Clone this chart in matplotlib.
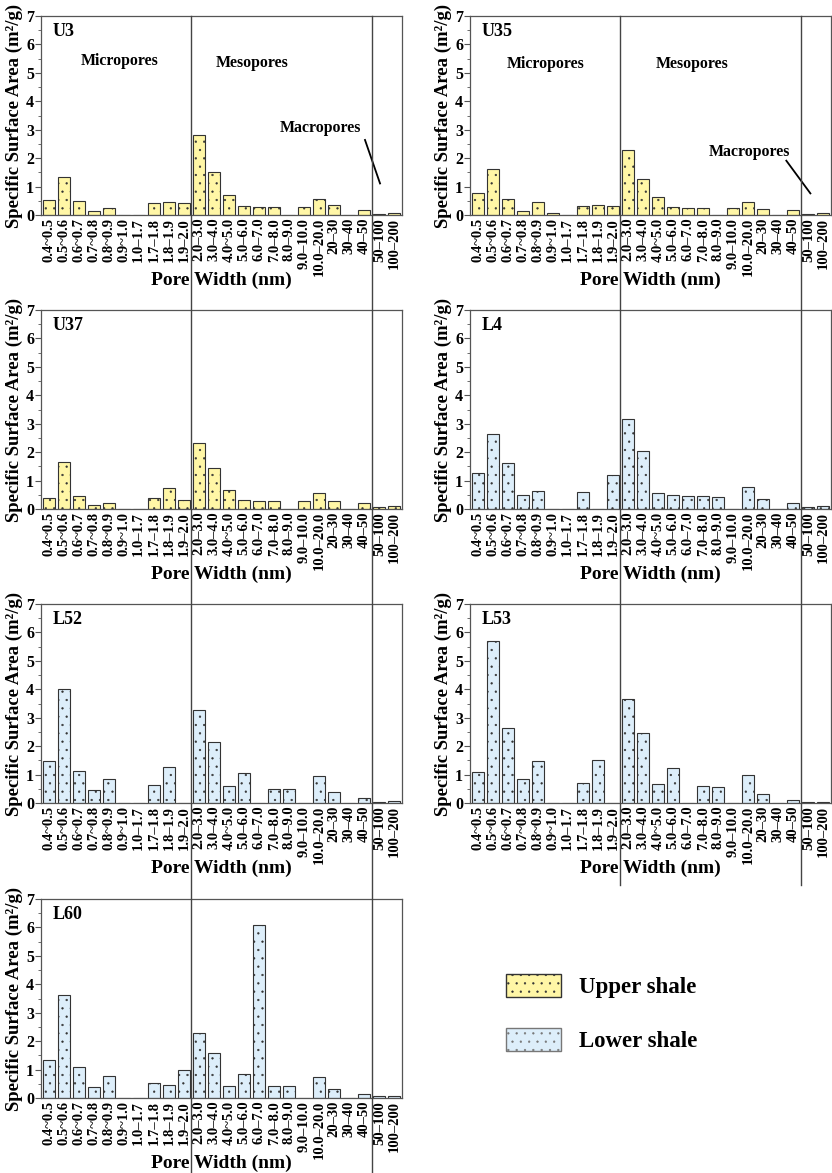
import numpy as np
import matplotlib.pyplot as plt
from matplotlib import transforms
from matplotlib.lines import Line2D
from matplotlib.patches import Patch
from matplotlib.ticker import MultipleLocator

plt.rcParams['font.family'] = ['Liberation Serif', 'DejaVu Serif']
plt.rcParams['font.weight'] = 'bold'
plt.rcParams['hatch.linewidth'] = 0.4

# pore width classes (nm)
pore_classes = ['0.4~0.5', '0.5~0.6', '0.6~0.7', '0.7~0.8', '0.8~0.9', '0.9~1.0',
                '1.0–1.7', '1.7–1.8', '1.8–1.9', '1.9–2.0', '2.0–3.0', '3.0–4.0',
                '4.0~5.0', '5.0–6.0', '6.0–7.0', '7.0–8.0', '8.0–9.0', '9.0–10.0',
                '10.0–20.0', '20–30', '30–40', '40–50', '50–100', '100–200']

# specific surface area (m2/g) per sample
U3 = [0.53, 1.35, 0.48, 0.13, 0.23, 0, 0, 0.43, 0.45, 0.41, 2.80, 1.50,
      0.69, 0.30, 0.29, 0.27, 0, 0.27, 0.55, 0.34, 0, 0.19, 0.05, 0.08]
U35 = [0.76, 1.61, 0.57, 0.13, 0.46, 0.08, 0, 0.30, 0.34, 0.33, 2.30, 1.27,
       0.62, 0.27, 0.26, 0.25, 0, 0.23, 0.45, 0.22, 0, 0.16, 0.05, 0.06]
U37 = [0.39, 1.66, 0.47, 0.15, 0.20, 0, 0, 0.37, 0.75, 0.32, 2.33, 1.44,
       0.68, 0.30, 0.29, 0.29, 0, 0.29, 0.56, 0.29, 0, 0.20, 0.07, 0.10]
L4 = [1.25, 2.65, 1.63, 0.49, 0.62, 0, 0, 0.61, 0, 1.21, 3.15, 2.05,
      0.57, 0.51, 0.47, 0.44, 0.41, 0, 0.76, 0.36, 0, 0.22, 0.07, 0.10]
L52 = [1.46, 4.02, 1.14, 0.46, 0.85, 0, 0, 0.64, 1.25, 0, 3.26, 2.15,
       0.60, 1.07, 0, 0.50, 0.50, 0, 0.96, 0.39, 0, 0.19, 0.05, 0.08]
L53 = [1.08, 5.69, 2.63, 0.86, 1.47, 0, 0, 0.70, 1.51, 0, 3.66, 2.46,
       0.68, 1.23, 0, 0.59, 0.56, 0, 0.97, 0.30, 0, 0.11, 0.04, 0.04]
L60 = [1.32, 3.62, 1.10, 0.40, 0.76, 0, 0, 0.52, 0.47, 0.97, 2.27, 1.57,
       0.43, 0.84, 6.07, 0.41, 0.41, 0, 0.75, 0.30, 0, 0.13, 0.06, 0.08]

samples = ['U3', 'U35', 'U37', 'L4', 'L52', 'L53', 'L60']
values = [U3, U35, U37, L4, L52, L53, L60]
shale = ['upper', 'upper', 'upper', 'lower', 'lower', 'lower', 'lower']

COLORS = {'upper': '#fff6a6', 'lower': '#ddeefa'}
EDGE = '#333333'

W, H = 832, 1173
fig = plt.figure(figsize=(W / 100, H / 100), dpi=100)

col_left = [41, 470]
row_top = [16, 310, 604, 899]
ax_w, ax_h = 361, 199

x = np.arange(len(pore_classes))
axes = []
for k, (name, vals) in enumerate(zip(samples, values)):
  r, c = divmod(k, 2)
  ax = fig.add_axes([col_left[c] / W, 1 - (row_top[r] + ax_h) / H, ax_w / W, ax_h / H])
  ax.bar(x, vals, width=0.8, color=COLORS[shale[k]], edgecolor=EDGE,
         linewidth=0.8, hatch='..')
  ax.set_xlim(-0.5, len(pore_classes) - 0.5)
  ax.set_ylim(0, 7)
  ax.yaxis.set_major_locator(MultipleLocator(1))
  ax.yaxis.set_minor_locator(MultipleLocator(0.5))
  ax.set_xticks(x)
  ax.set_xticklabels(pore_classes, rotation=90, fontsize=10.5, fontweight='bold')
  ax.tick_params(axis='x', length=0, pad=2)
  ax.tick_params(axis='y', which='major', length=4, width=0.8, labelsize=11.5, pad=1,
                 color='#555555')
  ax.tick_params(axis='y', which='minor', length=2, width=0.6, color='#555555')
  for sp in ax.spines.values():
    sp.set_color('#555555')
    sp.set_linewidth(0.9)
  ax.set_xlabel('Pore Width (nm)', fontsize=14, fontweight='bold')
  ax.xaxis.set_label_coords(0.5, -0.283)
  ax.set_ylabel('Specific Surface Area (m²/g)', fontsize=13.5, fontweight='bold',
                labelpad=2)
  ax.text(0.033, 0.92, name, transform=ax.transAxes, fontsize=13, fontweight='bold',
          ha='left', va='center')
  axes.append(ax)

# region annotations
axes[0].text(4.75, 5.42, 'Micropores', fontsize=11.4, fontweight='bold', ha='center', va='center')
axes[0].text(13.5, 5.36, 'Mesopores', fontsize=11.4, fontweight='bold', ha='center', va='center')
axes[0].text(18.05, 3.05, 'Macropores', fontsize=11.4, fontweight='bold', ha='center', va='center')
axes[0].plot([21.04, 22.04], [2.64, 1.11], color='black', lw=1.3)

axes[1].text(4.5, 5.31, 'Micropores', fontsize=11.4, fontweight='bold', ha='center', va='center')
axes[1].text(14.26, 5.31, 'Mesopores', fontsize=11.4, fontweight='bold', ha='center', va='center')
axes[1].text(18.1, 2.23, 'Macropores', fontsize=11.4, fontweight='bold', ha='center', va='center')
axes[1].plot([20.53, 22.13], [1.91, 0.76], color='black', lw=1.3)

# pore-class boundaries running down each column
y_top = 1 - row_top[0] / H
for ax, y_bot in [(axes[0], 0.0), (axes[1], 1 - 885 / H)]:
  tr = transforms.blended_transform_factory(ax.transData, fig.transFigure)
  for xb in (9.5, 21.5):
    fig.add_artist(Line2D([xb, xb], [y_top, y_bot], transform=tr,
                          color='#444444', lw=1.0))

handles = [Patch(facecolor=COLORS['upper'], edgecolor=EDGE, hatch='..', label='Upper shale'),
           Patch(facecolor=COLORS['lower'], edgecolor='#777777', hatch='..', label='Lower shale')]
fig.legend(handles=handles, loc='upper left', bbox_to_anchor=(506 / W, 1 - 974 / H),
           frameon=False, borderpad=0, borderaxespad=0, handlelength=2.4,
           handleheight=1.17, handletextpad=0.8, labelspacing=1.3,
           prop={'size': 16.5, 'weight': 'bold'})

fig.savefig('out.png', dpi=100)
